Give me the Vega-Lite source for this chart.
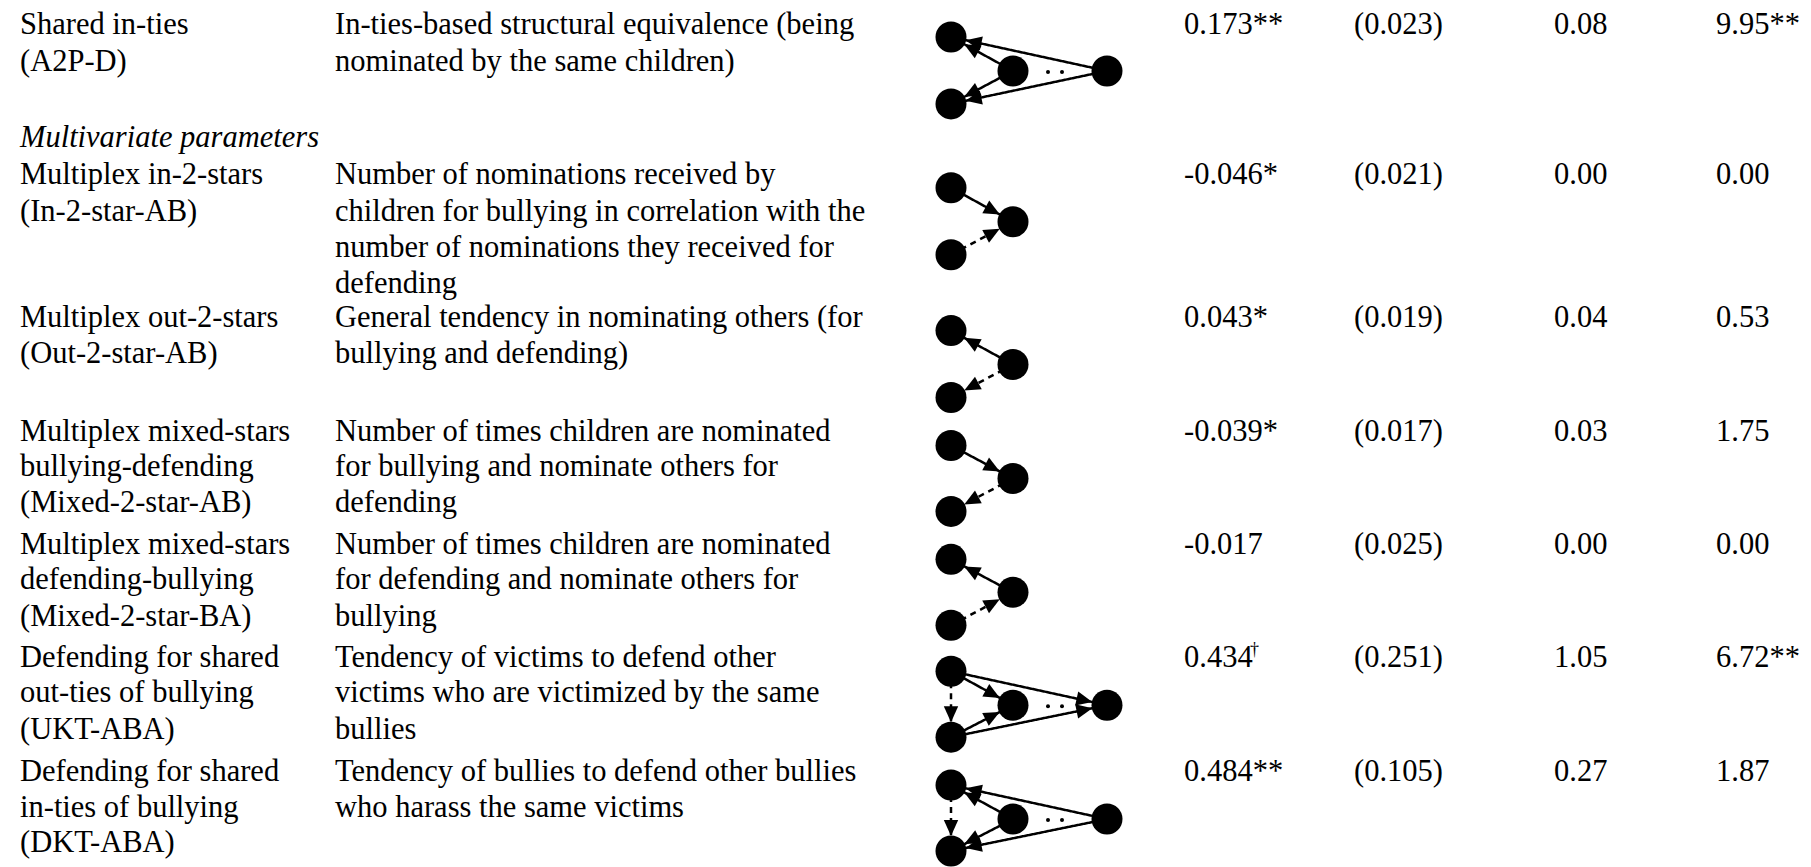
{
  "$schema": "https://vega.github.io/schema/vega-lite/v6.json",
  "width": 1811,
  "height": 867,
  "padding": 0,
  "autosize": {"type": "fit", "contains": "padding"},
  "background": "white",
  "config": {"view": {"stroke": null}},
  "datasets": {
    "cells": [
      {"col": 1, "slot": 0, "text": "Shared in-ties"},
      {"col": 1, "slot": 1, "text": "(A2P-D)"},
      {"col": 2, "slot": 0, "text": "In-ties-based structural equivalence (being"},
      {"col": 2, "slot": 1, "text": "nominated by the same children)"},
      {"col": 3, "slot": 0, "text": "\u00a00.173**"},
      {"col": 4, "slot": 0, "text": "(0.023)"},
      {"col": 5, "slot": 0, "text": "0.08"},
      {"col": 6, "slot": 0, "text": "9.95**"},
      {"col": 1, "slot": 2, "text": "Multivariate parameters", "kind": "section"},
      {"col": 1, "slot": 3, "text": "Multiplex in-2-stars"},
      {"col": 1, "slot": 4, "text": "(In-2-star-AB)"},
      {"col": 2, "slot": 3, "text": "Number of nominations received by"},
      {"col": 2, "slot": 4, "text": "children for bullying in correlation with the"},
      {"col": 2, "slot": 5, "text": "number of nominations they received for"},
      {"col": 2, "slot": 6, "text": "defending"},
      {"col": 3, "slot": 3, "text": "-0.046*"},
      {"col": 4, "slot": 3, "text": "(0.021)"},
      {"col": 5, "slot": 3, "text": "0.00"},
      {"col": 6, "slot": 3, "text": "0.00"},
      {"col": 1, "slot": 7, "text": "Multiplex out-2-stars"},
      {"col": 1, "slot": 8, "text": "(Out-2-star-AB)"},
      {"col": 2, "slot": 7, "text": "General tendency in nominating others (for"},
      {"col": 2, "slot": 8, "text": "bullying and defending)"},
      {"col": 3, "slot": 7, "text": "\u00a00.043*"},
      {"col": 4, "slot": 7, "text": "(0.019)"},
      {"col": 5, "slot": 7, "text": "0.04"},
      {"col": 6, "slot": 7, "text": "0.53"},
      {"col": 1, "slot": 9, "text": "Multiplex mixed-stars"},
      {"col": 1, "slot": 10, "text": "bullying-defending"},
      {"col": 1, "slot": 11, "text": "(Mixed-2-star-AB)"},
      {"col": 2, "slot": 9, "text": "Number of times children are nominated"},
      {"col": 2, "slot": 10, "text": "for bullying and nominate others for"},
      {"col": 2, "slot": 11, "text": "defending"},
      {"col": 3, "slot": 9, "text": "-0.039*"},
      {"col": 4, "slot": 9, "text": "(0.017)"},
      {"col": 5, "slot": 9, "text": "0.03"},
      {"col": 6, "slot": 9, "text": "1.75"},
      {"col": 1, "slot": 12, "text": "Multiplex mixed-stars"},
      {"col": 1, "slot": 13, "text": "defending-bullying"},
      {"col": 1, "slot": 14, "text": "(Mixed-2-star-BA)"},
      {"col": 2, "slot": 12, "text": "Number of times children are nominated"},
      {"col": 2, "slot": 13, "text": "for defending and nominate others for"},
      {"col": 2, "slot": 14, "text": "bullying"},
      {"col": 3, "slot": 12, "text": "-0.017"},
      {"col": 4, "slot": 12, "text": "(0.025)"},
      {"col": 5, "slot": 12, "text": "0.00"},
      {"col": 6, "slot": 12, "text": "0.00"},
      {"col": 1, "slot": 15, "text": "Defending for shared"},
      {"col": 1, "slot": 16, "text": "out-ties of bullying"},
      {"col": 1, "slot": 17, "text": "(UKT-ABA)"},
      {"col": 2, "slot": 15, "text": "Tendency of victims to defend other"},
      {"col": 2, "slot": 16, "text": "victims who are victimized by the same"},
      {"col": 2, "slot": 17, "text": "bullies"},
      {"col": 3, "slot": 15, "text": "\u00a00.434"},
      {"col": 3, "slot": 15, "text": "†", "kind": "sup"},
      {"col": 4, "slot": 15, "text": "(0.251)"},
      {"col": 5, "slot": 15, "text": "1.05"},
      {"col": 6, "slot": 15, "text": "6.72**"},
      {"col": 1, "slot": 18, "text": "Defending for shared"},
      {"col": 1, "slot": 19, "text": "in-ties of bullying"},
      {"col": 1, "slot": 20, "text": "(DKT-ABA)"},
      {"col": 2, "slot": 18, "text": "Tendency of bullies to defend other bullies"},
      {"col": 2, "slot": 19, "text": "who harass the same victims"},
      {"col": 3, "slot": 18, "text": "\u00a00.484**"},
      {"col": 4, "slot": 18, "text": "(0.105)"},
      {"col": 5, "slot": 18, "text": "0.27"},
      {"col": 6, "slot": 18, "text": "1.87"}
    ],
    "nodes": [
      {"x": 951, "y": 37}, {"x": 951, "y": 104}, {"x": 1013, "y": 71}, {"x": 1107, "y": 71},
      {"x": 951, "y": 188}, {"x": 1013, "y": 222}, {"x": 951, "y": 255},
      {"x": 951, "y": 331}, {"x": 1013, "y": 365}, {"x": 951, "y": 398},
      {"x": 951, "y": 446}, {"x": 1013, "y": 479}, {"x": 951, "y": 512},
      {"x": 951, "y": 560}, {"x": 1013, "y": 593}, {"x": 951, "y": 626},
      {"x": 951, "y": 672}, {"x": 951, "y": 738}, {"x": 1013, "y": 706}, {"x": 1107, "y": 706},
      {"x": 951, "y": 786}, {"x": 951, "y": 852}, {"x": 1013, "y": 820}, {"x": 1107, "y": 820}
    ],
    "dots": [
      {"x": 1048, "y": 72}, {"x": 1062, "y": 72},
      {"x": 1048, "y": 707}, {"x": 1062, "y": 707},
      {"x": 1048, "y": 821}, {"x": 1062, "y": 821}
    ],
    "edges": [
      {"x": 1013, "y": 71, "x2": 951, "y2": 37, "kind": "solid", "hx": 971.2, "hy": 48.1, "angle": -61.3},
      {"x": 1013, "y": 71, "x2": 951, "y2": 104, "kind": "solid", "hx": 971.3, "hy": 93.2, "angle": -118.0},
      {"x": 1107, "y": 71, "x2": 951, "y2": 37, "kind": "solid", "hx": 973.5, "hy": 41.9, "angle": -77.7},
      {"x": 1107, "y": 71, "x2": 951, "y2": 104, "kind": "solid", "hx": 973.5, "hy": 99.2, "angle": -102.0},
      {"x": 951, "y": 188, "x2": 1013, "y2": 222, "kind": "solid", "hx": 992.8, "hy": 210.9, "angle": 118.7},
      {"x": 951, "y": 255, "x2": 1013, "y2": 222, "kind": "dashed", "hx": 992.7, "hy": 232.8, "angle": 62.0},
      {"x": 1013, "y": 365, "x2": 951, "y2": 331, "kind": "solid", "hx": 971.2, "hy": 342.1, "angle": -61.3},
      {"x": 1013, "y": 365, "x2": 951, "y2": 398, "kind": "dashed", "hx": 971.3, "hy": 387.2, "angle": -118.0},
      {"x": 951, "y": 446, "x2": 1013, "y2": 479, "kind": "solid", "hx": 992.7, "hy": 468.2, "angle": 118.0},
      {"x": 1013, "y": 479, "x2": 951, "y2": 512, "kind": "dashed", "hx": 971.3, "hy": 501.2, "angle": -118.0},
      {"x": 1013, "y": 593, "x2": 951, "y2": 560, "kind": "solid", "hx": 971.3, "hy": 570.8, "angle": -62.0},
      {"x": 951, "y": 626, "x2": 1013, "y2": 593, "kind": "dashed", "hx": 992.7, "hy": 603.8, "angle": 62.0},
      {"x": 951, "y": 672, "x2": 1013, "y2": 706, "kind": "solid", "hx": 992.8, "hy": 694.9, "angle": 118.7},
      {"x": 951, "y": 672, "x2": 1107, "y2": 706, "kind": "solid", "hx": 1084.5, "hy": 701.1, "angle": 102.3},
      {"x": 951, "y": 738, "x2": 1013, "y2": 706, "kind": "solid", "hx": 992.6, "hy": 716.6, "angle": 62.7},
      {"x": 951, "y": 738, "x2": 1107, "y2": 706, "kind": "solid", "hx": 1084.5, "hy": 710.6, "angle": 78.4},
      {"x": 951, "y": 672, "x2": 951, "y2": 738, "kind": "dashed", "hx": 951, "hy": 715, "angle": 180},
      {"x": 1013, "y": 820, "x2": 951, "y2": 786, "kind": "solid", "hx": 971.2, "hy": 797.1, "angle": -61.3},
      {"x": 1107, "y": 820, "x2": 951, "y2": 786, "kind": "solid", "hx": 973.5, "hy": 790.9, "angle": -77.7},
      {"x": 1013, "y": 820, "x2": 951, "y2": 852, "kind": "solid", "hx": 971.4, "hy": 841.4, "angle": -117.3},
      {"x": 1107, "y": 820, "x2": 951, "y2": 852, "kind": "solid", "hx": 973.5, "hy": 847.4, "angle": -101.6},
      {"x": 951, "y": 786, "x2": 951, "y2": 852, "kind": "dashed", "hx": 951, "hy": 829, "angle": 180}
    ]
  },
  "layer": [
    {
      "data": {"name": "edges"},
      "mark": {"type": "rule", "color": "black", "strokeWidth": 2.5},
      "encoding": {
        "x": {"field": "x", "type": "quantitative", "scale": {"domain": [0, 1811], "nice": false, "zero": false}, "axis": null},
        "y": {"field": "y", "type": "quantitative", "scale": {"domain": [0, 867], "nice": false, "zero": false, "reverse": true}, "axis": null},
        "x2": {"field": "x2"},
        "y2": {"field": "y2"},
        "strokeDash": {"field": "kind", "type": "nominal", "scale": {"domain": ["solid", "dashed"], "range": [[1, 0], [6, 5]]}, "legend": null}
      }
    },
    {
      "data": {"name": "edges"},
      "mark": {"type": "point", "shape": "M0,-1L-0.9,1L0.9,1Z", "size": 256, "filled": true, "color": "black", "opacity": 1},
      "encoding": {
        "x": {"field": "hx", "type": "quantitative", "scale": {"domain": [0, 1811], "nice": false, "zero": false}, "axis": null},
        "y": {"field": "hy", "type": "quantitative", "scale": {"domain": [0, 867], "nice": false, "zero": false, "reverse": true}, "axis": null},
        "angle": {"field": "angle", "type": "quantitative", "scale": null}
      }
    },
    {
      "data": {"name": "nodes"},
      "mark": {"type": "circle", "size": 961, "color": "black", "opacity": 1},
      "encoding": {
        "x": {"field": "x", "type": "quantitative", "scale": {"domain": [0, 1811], "nice": false, "zero": false}, "axis": null},
        "y": {"field": "y", "type": "quantitative", "scale": {"domain": [0, 867], "nice": false, "zero": false, "reverse": true}, "axis": null}
      }
    },
    {
      "data": {"name": "dots"},
      "mark": {"type": "circle", "size": 16, "color": "black", "opacity": 1},
      "encoding": {
        "x": {"field": "x", "type": "quantitative", "scale": {"domain": [0, 1811], "nice": false, "zero": false}, "axis": null},
        "y": {"field": "y", "type": "quantitative", "scale": {"domain": [0, 867], "nice": false, "zero": false, "reverse": true}, "axis": null}
      }
    },
    {
      "data": {"name": "cells"},
      "transform": [{"filter": "!isValid(datum.kind)"}],
      "mark": {"type": "text", "font": "Liberation Serif", "fontSize": 30.5, "align": "left", "baseline": "alphabetic", "color": "black"},
      "encoding": {
        "x": {"field": "col", "type": "quantitative", "scale": {"domain": [1, 2, 3, 4, 5, 6], "range": [20, 335, 1184, 1354, 1554, 1716], "nice": false, "zero": false}, "axis": null},
        "y": {"field": "slot", "type": "quantitative", "scale": {"domain": [0, 1, 2, 3, 4, 5, 6, 7, 8, 9, 10, 11, 12, 13, 14, 15, 16, 17, 18, 19, 20], "range": [34, 71, 147, 184, 221, 257, 293, 327, 363, 441, 476, 512, 554, 589, 626, 667, 702, 739, 781, 817, 852], "nice": false, "zero": false}, "axis": null},
        "text": {"field": "text", "type": "nominal"}
      }
    },
    {
      "data": {"name": "cells"},
      "transform": [{"filter": "datum.kind === 'section'"}],
      "mark": {"type": "text", "font": "Liberation Serif", "fontSize": 30.5, "fontStyle": "italic", "align": "left", "baseline": "alphabetic", "color": "black"},
      "encoding": {
        "x": {"field": "col", "type": "quantitative", "scale": {"domain": [1, 2, 3, 4, 5, 6], "range": [20, 335, 1184, 1354, 1554, 1716], "nice": false, "zero": false}, "axis": null},
        "y": {"field": "slot", "type": "quantitative", "scale": {"domain": [0, 1, 2, 3, 4, 5, 6, 7, 8, 9, 10, 11, 12, 13, 14, 15, 16, 17, 18, 19, 20], "range": [34, 71, 147, 184, 221, 257, 293, 327, 363, 441, 476, 512, 554, 589, 626, 667, 702, 739, 781, 817, 852], "nice": false, "zero": false}, "axis": null},
        "text": {"field": "text", "type": "nominal"}
      }
    },
    {
      "data": {"name": "cells"},
      "transform": [{"filter": "datum.kind === 'sup'"}],
      "mark": {"type": "text", "font": "Liberation Serif", "fontSize": 18, "align": "left", "baseline": "alphabetic", "color": "black", "dx": 66, "dy": -12},
      "encoding": {
        "x": {"field": "col", "type": "quantitative", "scale": {"domain": [1, 2, 3, 4, 5, 6], "range": [20, 335, 1184, 1354, 1554, 1716], "nice": false, "zero": false}, "axis": null},
        "y": {"field": "slot", "type": "quantitative", "scale": {"domain": [0, 1, 2, 3, 4, 5, 6, 7, 8, 9, 10, 11, 12, 13, 14, 15, 16, 17, 18, 19, 20], "range": [34, 71, 147, 184, 221, 257, 293, 327, 363, 441, 476, 512, 554, 589, 626, 667, 702, 739, 781, 817, 852], "nice": false, "zero": false}, "axis": null},
        "text": {"field": "text", "type": "nominal"}
      }
    }
  ],
  "resolve": {"scale": {"x": "independent", "y": "independent"}}
}
